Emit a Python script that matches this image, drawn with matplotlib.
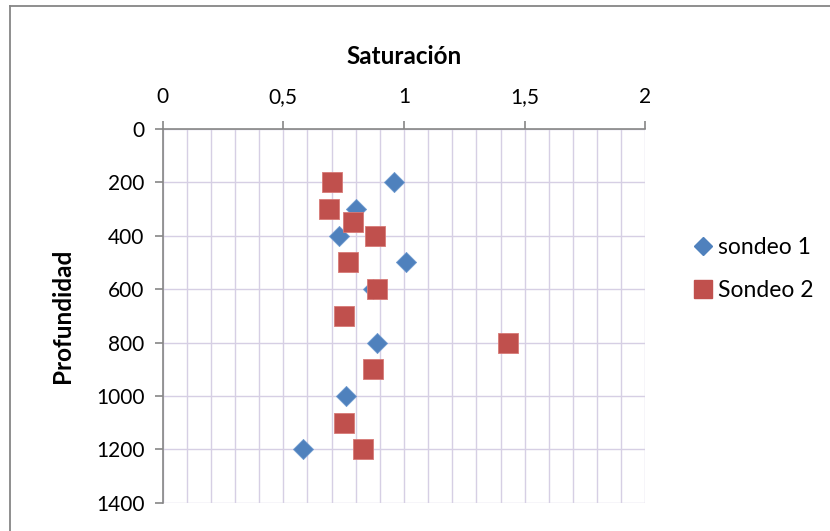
import matplotlib.pyplot as plt
from matplotlib.lines import Line2D
from matplotlib.ticker import MultipleLocator, FuncFormatter

# sondeo 1 (diamonds)
s1_sat = [0.96, 0.80, 0.73, 1.01, 0.87, 0.89, 0.76, 0.58]
s1_depth = [200, 300, 400, 500, 600, 800, 1000, 1200]

# Sondeo 2 (squares)
s2_sat = [0.70, 0.69, 0.79, 0.88, 0.77, 0.89, 0.75, 1.43, 0.87, 0.75, 0.83]
s2_depth = [200, 300, 350, 400, 500, 600, 700, 800, 900, 1100, 1200]

plt.rcParams["font.family"] = ["Lato", "DejaVu Sans"]

fig = plt.figure(figsize=(8.3, 5.31), dpi=100)
ax = fig.add_axes([0.196, 0.0533, 0.5815, 0.7037])

grid_color = "#d6cfe4"
axis_color = "#868686"

ax.scatter(s1_sat, s1_depth, marker="D", s=105, color="#4f81bd",
           edgecolors="#6f9ad0", linewidths=0.6, zorder=3, label="sondeo 1")
ax.scatter(s2_sat, s2_depth, marker="s", s=205, color="#c0504d",
           edgecolors="#d77a77", linewidths=0.6, zorder=3, label="Sondeo 2")

ax.set_xlim(0, 2)
ax.set_ylim(1400, 0)
ax.xaxis.tick_top()
ax.xaxis.set_major_locator(MultipleLocator(0.5))
ax.xaxis.set_minor_locator(MultipleLocator(0.1))
ax.yaxis.set_major_locator(MultipleLocator(200))
ax.xaxis.set_major_formatter(FuncFormatter(lambda v, p: f"{v:g}".replace(".", ",")))

ax.grid(True, which="major", axis="y", color=grid_color, linewidth=1.0, zorder=0)
ax.grid(True, which="both", axis="x", color=grid_color, linewidth=1.0, zorder=0)
ax.set_axisbelow(True)

for side in ("right", "bottom"):
    ax.spines[side].set_visible(False)
for side in ("left", "top"):
    ax.spines[side].set_color(axis_color)
    ax.spines[side].set_linewidth(1.2)

ax.tick_params(axis="both", which="major", direction="out", length=6,
               width=1.2, color=axis_color, labelsize=15, pad=7)
ax.tick_params(axis="x", which="minor", length=0)
ax.tick_params(axis="x", which="major", pad=10)

fig.text(404 / 830, 1 - 57 / 531, "Saturación", fontsize=17.5, fontweight="bold",
         ha="center", va="center")
fig.text(62 / 830, 1 - 316 / 531, "Profundidad", fontsize=17.5, fontweight="bold",
         ha="center", va="center", rotation=90)

handles = [
    Line2D([], [], marker="D", linestyle="none", markersize=8.7,
           color="#4f81bd", label="sondeo 1"),
    Line2D([], [], marker="s", linestyle="none", markersize=13,
           color="#c0504d", label="Sondeo 2"),
]
fig.legend(handles=handles, loc="center left", bbox_to_anchor=(0.808, 0.494),
           frameon=False, fontsize=16.5, handletextpad=0.15, labelspacing=0.95,
           handlelength=1.0)

# chart area border
fig.add_artist(Line2D([10 / 830, 10 / 830], [0, 1 - 6 / 531],
                      transform=fig.transFigure, color=axis_color, linewidth=1.3))
fig.add_artist(Line2D([10 / 830, 1], [1 - 6 / 531, 1 - 6 / 531],
                      transform=fig.transFigure, color=axis_color, linewidth=1.3))

fig.savefig("out.png", dpi=100)
